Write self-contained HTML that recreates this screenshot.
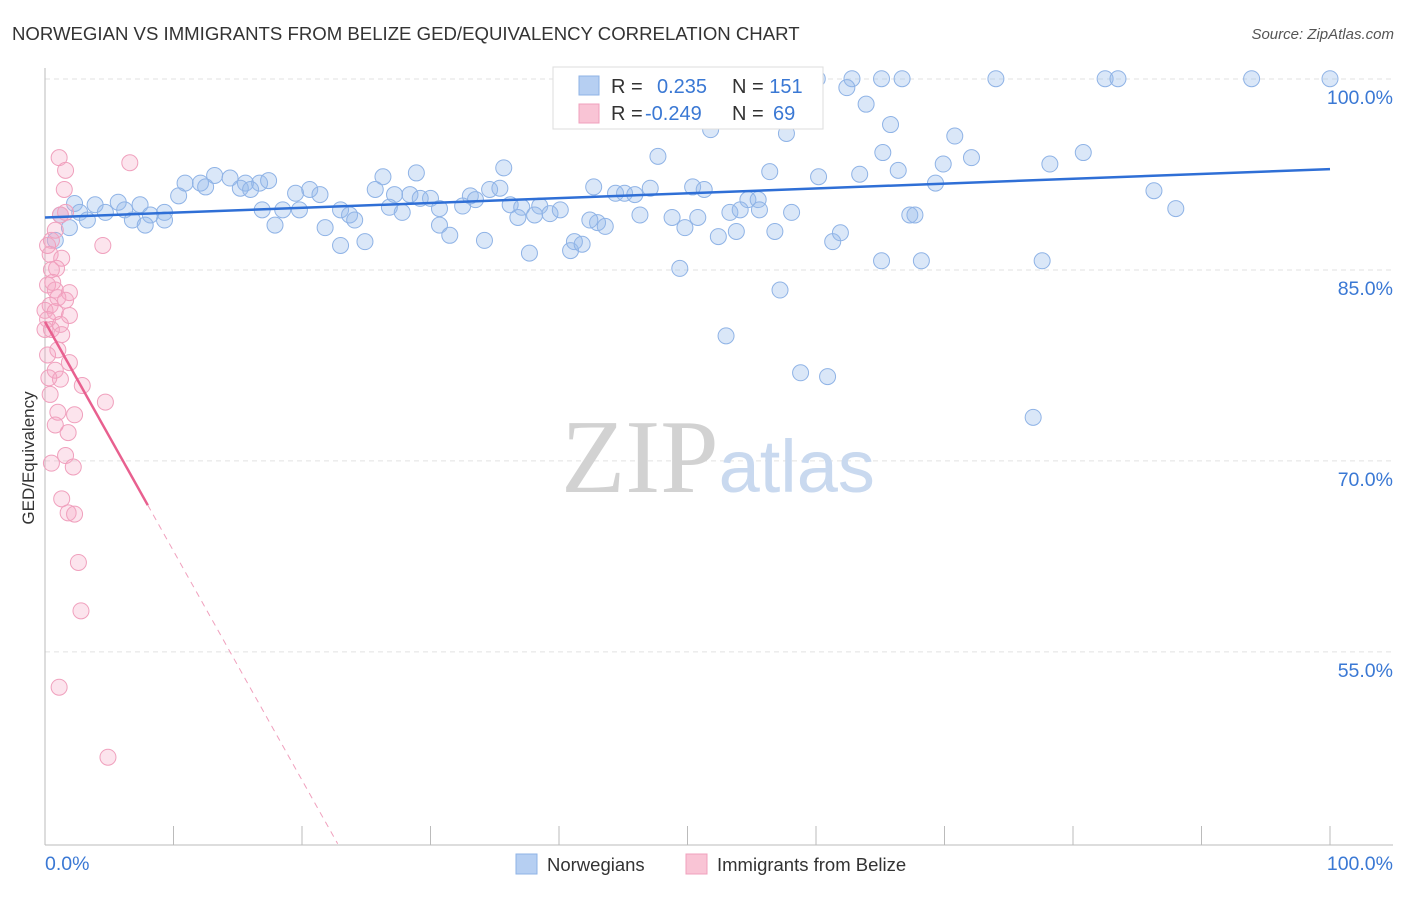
<!DOCTYPE html>
<html><head><meta charset="utf-8"><style>
body{margin:0;background:#fff;font-family:"Liberation Sans",sans-serif}
svg text{font-family:"Liberation Sans",sans-serif}
</style></head><body>
<svg id="chart" width="1406" height="892">
<text x="12" y="40" font-size="18.6" fill="#333">NORWEGIAN VS IMMIGRANTS FROM BELIZE GED/EQUIVALENCY CORRELATION CHART</text>
<text x="1394" y="39" font-size="15" fill="#555" font-style="italic" text-anchor="end">Source: ZipAtlas.com</text>
<g id="grid"></g>
<text x="718" y="492" font-size="74" fill="#ddd" text-anchor="middle"><tspan fill="#d2d2d2" font-family="Liberation Serif" font-size="105">ZIP</tspan><tspan fill="#c9d9ef">atlas</tspan></text>
<text transform="translate(34,458) rotate(-90)" font-size="17" fill="#333" text-anchor="middle">GED/Equivalency</text>
<g id="pts"></g>
<g id="trend"></g>
<g>
<rect x="553" y="67" width="270" height="62" fill="#fff" stroke="#ddd"/>
<rect x="579" y="76" width="20" height="19" fill="#b6cff2" stroke="#8fb3e6"/>
<rect x="579" y="104" width="20" height="19" fill="#f9c4d5" stroke="#f0a0bd"/>
<text x="611" y="93" font-size="20" fill="#333">R = <tspan fill="#3a78d4" x="657">0.235</tspan><tspan x="732">N = </tspan><tspan fill="#3a78d4">151</tspan></text>
<text x="611" y="120" font-size="20" fill="#333">R = <tspan fill="#3a78d4" x="645">-0.249</tspan><tspan x="732">N = </tspan><tspan fill="#3a78d4" x="773">69</tspan></text>
</g>
<g>
<rect x="516" y="854" width="21" height="20" fill="#b6cff2" stroke="#8fb3e6"/>
<text x="547" y="871" font-size="18.5" fill="#333">Norwegians</text>
<rect x="686" y="854" width="21" height="20" fill="#f9c4d5" stroke="#f0a0bd"/>
<text x="717" y="871" font-size="18.5" fill="#333">Immigrants from Belize</text>
</g>
<text x="45" y="870" font-size="19.5" fill="#3a78d4">0.0%</text>
<text x="1393" y="870" font-size="19.5" fill="#3a78d4" text-anchor="end">100.0%</text>
</svg>
<script>
const yTicks=[100,85,70,55];
const xTicks=[0,10,20,30,40,50,60,70,80,90,100];
const blueX=[60.1,62.8,65.1,66.7,74.0,82.5,83.5,93.9,100,62.4,63.9,65.8,51.8,57.7,70.8,72.1,65.2,80.8,47.7,35.7,28.9,26.3,56.4,60.2,63.4,69.9,78.2,66.4,69.3,86.3,88.0,10.9,12.1,13.2,14.4,15.6,16.7,17.4,12.5,15.2,16.0,10.4,19.5,20.6,21.4,25.7,28.4,30.0,27.2,33.1,34.6,35.4,42.7,44.4,45.1,45.9,47.1,50.4,51.3,54.7,55.5,2.3,3.9,5.7,7.4,1.2,2.7,4.7,6.2,8.2,9.3,6.8,9.3,3.3,1.9,7.8,16.9,18.5,19.8,23.0,23.7,26.8,27.8,29.2,30.7,32.5,33.5,36.2,37.1,38.5,38.1,39.3,40.1,36.8,43.0,42.4,43.6,46.3,48.8,50.8,53.3,54.1,55.6,58.1,67.3,67.7,17.9,21.8,24.1,30.7,31.5,34.2,23.0,24.9,37.7,40.9,41.2,41.8,49.8,52.4,53.8,56.8,61.3,61.9,65.1,68.2,77.6,49.4,57.2,53.0,58.8,60.9,76.9,0.8];
const blueY=[100.1,100.1,100.1,100.1,100.1,100.1,100.1,100.1,100.1,99.4,98.1,96.5,96.1,95.8,95.6,93.9,94.3,94.3,94.0,93.1,92.7,92.4,92.8,92.4,92.6,93.4,93.4,92.9,91.9,91.3,89.9,91.9,91.9,92.5,92.3,91.9,91.9,92.1,91.6,91.5,91.4,90.9,91.1,91.4,91.0,91.4,91.0,90.7,91.0,90.9,91.4,91.5,91.6,91.1,91.1,91.0,91.5,91.6,91.4,90.6,90.6,90.3,90.2,90.4,90.2,89.4,89.6,89.6,89.8,89.4,89.6,89.0,89.0,89.0,88.4,88.6,89.8,89.8,89.8,89.8,89.4,90.0,89.6,90.7,89.9,90.1,90.6,90.2,90.0,90.1,89.4,89.5,89.8,89.2,88.8,89.0,88.5,89.4,89.2,89.2,89.6,89.8,89.8,89.6,89.4,89.4,88.6,88.4,89.0,88.6,87.8,87.4,87.0,87.3,86.4,86.6,87.3,87.1,88.4,87.7,88.1,88.1,87.3,88.0,85.8,85.8,85.8,85.2,83.5,79.9,77.0,76.7,73.5,87.4];
const pinkX=[1.1,1.6,6.6,1.5,1.2,1.6,4.5,0.5,0.4,1.3,0.9,0.5,0.2,0.8,1.9,1.0,0.4,1.6,0,0.8,1.9,0.2,1.2,0.5,1.3,0.2,1.0,1.9,0.8,1.2,2.9,0.4,4.7,1.0,2.3,0.8,1.8,1.6,0.5,2.2,1.3,1.8,2.3,2.6,2.8,1.1,4.9,0.8,0.2,0.6,0,0.3];
const pinkY=[93.9,92.9,93.5,91.4,89.4,89.6,87.0,87.4,86.3,86.0,85.2,85.1,83.9,83.5,83.3,82.9,82.3,82.7,81.9,81.8,81.5,81.2,80.8,80.4,80.0,78.4,78.8,77.8,77.2,76.5,76.0,75.3,74.7,73.9,73.7,72.9,72.3,70.5,69.9,69.6,67.1,66.0,65.9,62.1,58.3,52.3,46.8,88.2,87.0,84.1,80.4,76.6];
const blueTrend=[89.2,93.0];
const pinkTrend=[81.0,-1.8];
const NS="http://www.w3.org/2000/svg";
const X=v=>45+v*12.85, Y=v=>80+(100-v)*12.73;
function mk(tag,attrs,parent){const e=document.createElementNS(NS,tag);for(const k in attrs)e.setAttribute(k,attrs[k]);parent.appendChild(e);return e;}
const grid=document.getElementById('grid');
yTicks.forEach(t=>{
 const l=mk('line',{x1:45,x2:1393,y1:Y(t)-1,y2:Y(t)-1,stroke:'#e2e2e2','stroke-dasharray':'5,4'},grid);
 
 
 const tx=mk('text',{x:1393,y:Y(t)+24,'font-size':19.5,fill:'#3a78d4','text-anchor':'end'},grid);
 tx.textContent=t.toFixed(1)+'%';
 
 
});
mk('line',{x1:45,x2:45,y1:68,y2:845,stroke:'#bbb'},grid);
mk('line',{x1:45,x2:1393,y1:845,y2:845,stroke:'#bbb'},grid);
xTicks.forEach(t=>{
 const l=mk('line',{x1:X(t),x2:X(t),y1:826,y2:845,stroke:'#bbb'},grid);
 
 
});
const pts=document.getElementById('pts');
blueX.forEach((x,i)=>{
 const c=mk('circle',{cx:X(x),cy:Y(blueY[i]),r:8,fill:'rgba(150,185,235,0.35)',stroke:'#8fb3e6','stroke-width':1},pts);
 
 
});
pinkX.forEach((x,i)=>{
 const c=mk('circle',{cx:X(x),cy:Y(pinkY[i]),r:8,fill:'rgba(245,165,195,0.3)',stroke:'#f0a0bd','stroke-width':1},pts);
 
 
});
const tr=document.getElementById('trend');
const bl=mk('line',{x1:X(0),y1:Y(blueTrend[0]),x2:X(100),y2:Y(blueTrend[1]),stroke:'#2f6fd6','stroke-width':2.5},tr);


const pf=x=>pinkTrend[0]+pinkTrend[1]*x;
const pl=mk('line',{x1:X(0),y1:Y(pf(0)),x2:X(8),y2:Y(pf(8)),stroke:'#e8608f','stroke-width':2.5},tr);


const xe=(pinkTrend[0]-40)/(-pinkTrend[1]);
const pd=mk('line',{x1:X(8),y1:Y(pf(8)),x2:X(xe),y2:Y(pf(xe)),stroke:'#f0a0bd','stroke-width':1,'stroke-dasharray':'6,5'},tr);


</script>
</body></html>
